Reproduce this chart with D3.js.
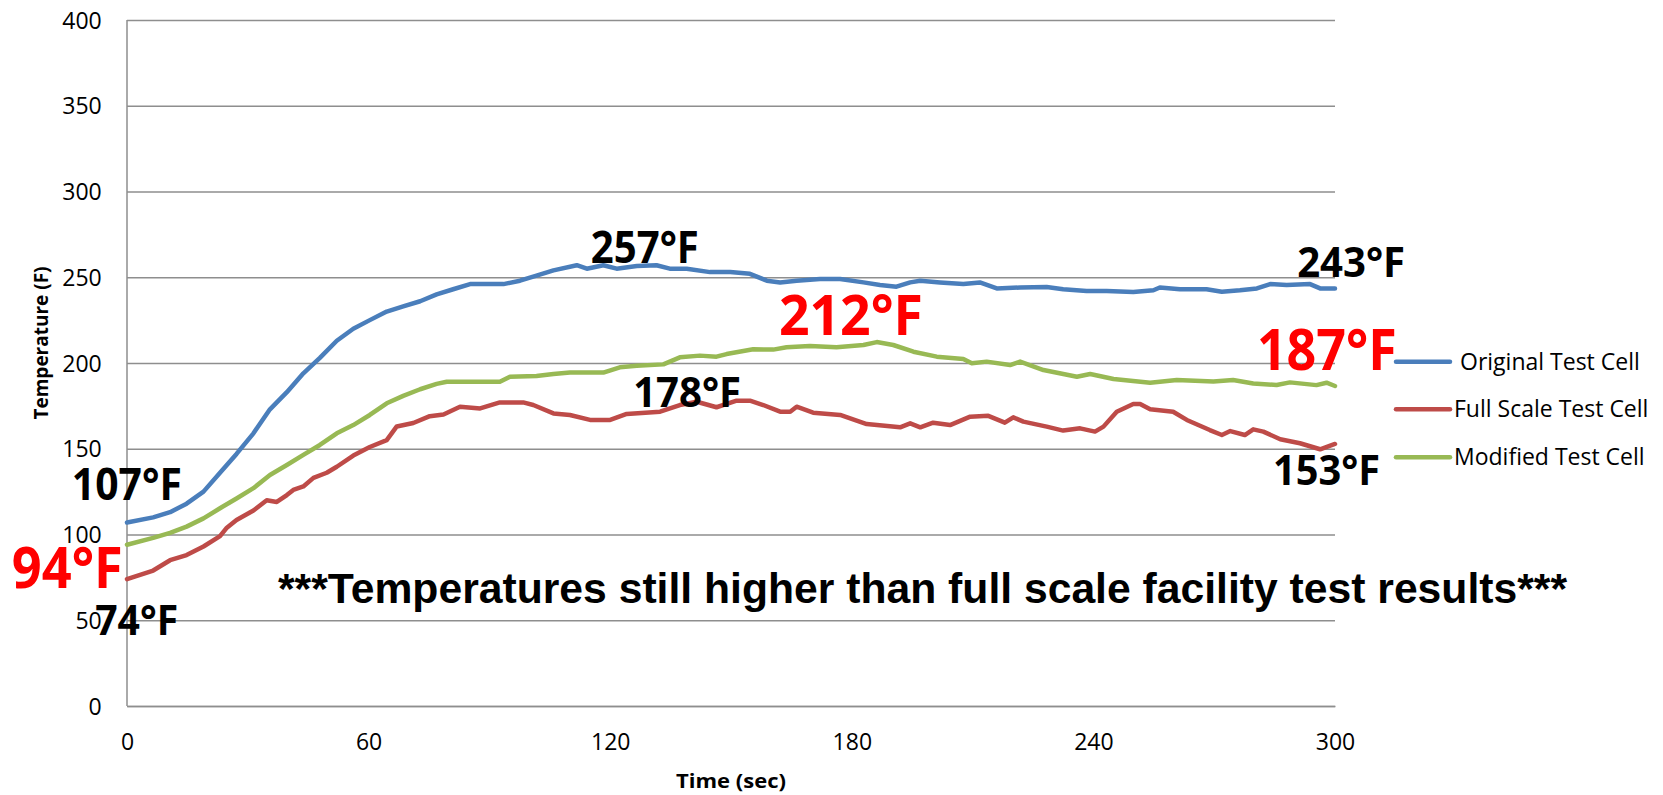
<!DOCTYPE html>
<html>
<head>
<meta charset="utf-8">
<script src="https://cdn.jsdelivr.net/npm/d3@7"></script>
<style>
  html, body { margin: 0; padding: 0; background: #fff; }
  svg { display: block; }
</style>
</head>
<body>
<svg id="chart" width="1663" height="795"></svg>
<script>
// ---------------- DATA ----------------
const seriesNames = ["Original Test Cell", "Full Scale Test Cell", "Modified Test Cell"];

const originalTime = [0,6.5,10.7,14.8,19,23.1,27.2,31.4,35.5,39.7,43.8,47.9,52.1,56.2,60.3,64.5,68.6,72.8,76.9,81,85.2,89.3,93.5,97.6,101.7,105.9,111.7,114.2,118.3,121.6,126.6,131.5,134.8,139,144.8,149.8,154.7,158.9,162.2,166.3,172.1,177.1,182.9,187,191.1,194.5,197,201.9,207.7,211.8,216,221.8,228.4,232.5,238.3,243.3,249.9,254.9,256.5,261.5,268.1,271.9,276.4,280.6,283.9,288,293.8,296.3,300];
const originalTemp = [107,110,113,118,125,136,147,159,173,183,194,203,213,220,225,230,233,236,240,243,246,246,246,248,251,254,257,255,257,255,256.5,257,255,255,253,253,252,248,247,248,249,249,247,245.5,244.5,247,248,247,246,247,243.5,244,244.3,243,242,242,241.4,242.4,244,243,243,241.6,242.4,243.5,246,245.5,246,243.5,243.5];

const fullScaleTime = [0,6.5,10.7,14.8,19,23.1,24.8,27.2,31.4,34.7,37.2,39.7,41.3,43.8,46.3,49.6,52.1,56.2,60.3,64.5,67,71.1,75.2,78.6,82.7,87.7,92.6,98.4,100.9,105.9,110,115,120,124.1,132.4,137.3,141.5,146.4,151.4,154.7,158,162.2,164.7,166.3,170.4,177.1,183.7,192,194.5,197,200.2,204.4,209.4,213.9,218,220.1,222.6,228.4,232.5,236.7,240.4,242.5,245.8,249.9,251.6,254.1,259.8,263.2,268.9,271.9,274,277.6,279.7,282.2,286.4,291.3,296.3,300];
const fullScaleTemp = [74,79,85,88,93,99,104,108.5,114,120,119,123,126,128,133,136,139.5,146,151,155,163,165,169,170,174.5,173.5,177,177,175.5,170.6,169.7,166.8,166.8,170.3,171.6,175.5,177.4,174.2,178,178,175.5,171.6,171.6,174.5,171,169.7,164.4,162.5,164.8,162.5,165.2,163.8,168.7,169.2,165.2,168.3,165.8,162.9,160.6,161.9,160,162.9,171.6,176.1,176.1,173,171.6,166.8,160.9,158,160.3,158,161.3,160,155.5,153.2,149.7,152.8];

const modifiedTime = [0,6.5,10.7,14.8,19,23.1,27.2,31.4,35.5,39.7,43.8,47.9,52.1,56.2,60.3,64.5,68.6,72.8,76.9,79.4,85.2,92.6,95.1,101.7,105.9,110,118.3,122.4,126.6,133.2,137.3,142.3,146.4,148.9,155.5,160.5,163.8,169.6,176.2,182.9,186.2,190.3,195.3,201.1,207.7,209.8,213.5,219.3,221.8,227.6,235.9,239.2,245,254.1,260.7,269.8,274.7,279.7,285.5,288.8,295.4,297.9,300];
const modifiedTemp = [94,98,101,104.6,109.4,115.3,121,127,134.7,140.5,146.4,152.2,159,163.8,169.7,176.5,180.8,184.7,187.8,189.1,189.1,189.1,192,192.4,193.6,194.4,194.4,197.5,198.4,199.2,203.3,204.3,203.7,205.2,208,207.8,209.2,209.9,209.2,210.5,212.2,210.5,206.6,203.7,202.3,199.8,200.8,198.8,200.8,195.9,192,193.6,190.7,188.5,190.1,189.2,190.1,188.1,187.2,188.7,187.1,188.5,186.6];

const xTicks = [0, 60, 120, 180, 240, 300];
const yTicks = [0, 50, 100, 150, 200, 250, 300, 350, 400];
const xTitle = "Time (sec)";
const yTitle = "Temperature (F)";

// callout labels and their anchor (time, temperature) in data units
const calloutText = ["107°F", "94°F", "74°F", "257°F", "178°F", "212°F", "243°F", "187°F", "153°F"];
const calloutTime = [-13.7, -28.6, -7.9, 115.2, 125.7, 161.9, 290.6, 280.6, 284.6];
const calloutTemp = [120.1, 68.8, 41.4, 258.3, 174.3, 216.3, 250.1, 195.9, 128.9];
const noteText = "***Temperatures still higher than full scale facility test results***";
const noteTime = 37.5, noteTemp = 60.1;

// ---------------- STYLE / LAYOUT ----------------
const colors = ["#4A7EBB", "#BE4B48", "#98B954"];
const calloutColor = ["#000", "#FF0000", "#000", "#000", "#000", "#FF0000", "#000", "#FF0000", "#000"];
const calloutSize = [45, 57, 42, 45, 42, 56, 41, 57, 42];
const calloutWidth = [110, 111, 83, 108, 108, 144, 108, 140, 107];

const plot = { left: 127, right: 1335, top: 20, bottom: 706 };
const svg = d3.select("#chart");
svg.append("rect").attr("width", 1663).attr("height", 795).attr("fill", "#fff");

const x = d3.scaleLinear().domain([0, 300]).range([plot.left, plot.right]);
const y = d3.scaleLinear().domain([0, 400]).range([plot.bottom, plot.top]);

const gridColor = "#8E8E8E";

// gridlines
const yAxis = d3.axisLeft(y).tickValues(yTicks).tickSize(-(plot.right - plot.left)).tickPadding(26).tickFormat(d3.format("d"));
const gy = svg.append("g").attr("transform", `translate(${plot.left},0)`).call(yAxis);
gy.select(".domain").remove();
gy.selectAll(".tick line").attr("stroke", gridColor).attr("stroke-width", 1.3);
gy.selectAll(".tick text")
  .attr("font-family", "'Open Sans', sans-serif").attr("font-size", 23).attr("fill", "#000")
  .attr("x", 101.7 - plot.left).attr("dy", "0.35em");

// y axis line
svg.append("line").attr("x1", plot.left).attr("x2", plot.left).attr("y1", plot.top).attr("y2", plot.bottom)
  .attr("stroke", gridColor).attr("stroke-width", 1.5);

const xAxis = d3.axisBottom(x).tickValues(xTicks).tickSize(0).tickPadding(0).tickFormat(d3.format("d"));
const gx = svg.append("g").attr("transform", `translate(0,${plot.bottom})`).call(xAxis);
gx.select(".domain").attr("stroke", gridColor).attr("stroke-width", 1.5);
gx.selectAll(".tick text")
  .attr("font-family", "'Open Sans', sans-serif").attr("font-size", 23).attr("fill", "#000")
  .attr("y", 44).attr("dy", 0);

// axis titles
svg.append("text").text(xTitle)
  .attr("x", (plot.left + plot.right) / 2).attr("y", 788)
  .attr("text-anchor", "middle").attr("font-family", "'Open Sans', sans-serif")
  .attr("font-weight", "bold").attr("font-size", 20)
  .attr("textLength", 110).attr("lengthAdjust", "spacingAndGlyphs");
svg.append("text").text(yTitle)
  .attr("transform", "translate(48,343) rotate(-90)")
  .attr("text-anchor", "middle").attr("font-family", "'Open Sans', sans-serif")
  .attr("font-weight", "bold").attr("font-size", 20)
  .attr("textLength", 153).attr("lengthAdjust", "spacingAndGlyphs");

// series lines
const series = [
  originalTime.map((t, i) => [t, originalTemp[i]]),
  fullScaleTime.map((t, i) => [t, fullScaleTemp[i]]),
  modifiedTime.map((t, i) => [t, modifiedTemp[i]])
];
const line = d3.line().x(d => x(d[0])).y(d => y(d[1])).curve(d3.curveLinear);
series.forEach((s, i) => {
  svg.append("path").datum(s).attr("d", line)
    .attr("fill", "none").attr("stroke", colors[i]).attr("stroke-width", 4.5)
    .attr("stroke-linejoin", "round").attr("stroke-linecap", "round");
});

// legend
const legendY = [361.7, 409.3, 457.3];
seriesNames.forEach((name, i) => {
  svg.append("line").attr("x1", 1396).attr("x2", 1450).attr("y1", legendY[i]).attr("y2", legendY[i])
    .attr("stroke", colors[i]).attr("stroke-width", 4.5).attr("stroke-linecap", "round");
  svg.append("text").text(name).attr("x", i === 0 ? 1460 : 1454).attr("y", legendY[i] + 7.8)
    .attr("font-family", "'Open Sans', sans-serif").attr("font-size", 23).attr("fill", "#000");
});

// callouts
calloutText.forEach((txt, i) => {
  svg.append("text").text(txt)
    .attr("x", x(calloutTime[i])).attr("y", y(calloutTemp[i]))
    .attr("font-family", "'Open Sans', sans-serif").attr("font-weight", "bold")
    .attr("font-size", calloutSize[i]).attr("fill", calloutColor[i])
    .attr("textLength", calloutWidth[i]).attr("lengthAdjust", "spacingAndGlyphs");
});

// note
svg.append("text").text(noteText)
  .attr("x", x(noteTime)).attr("y", y(noteTemp))
  .attr("font-family", "'Liberation Sans', Arial, sans-serif").attr("font-weight", "bold")
  .attr("font-size", 43).attr("fill", "#000")
  .attr("textLength", 1289).attr("lengthAdjust", "spacingAndGlyphs");
</script>
</body>
</html>
